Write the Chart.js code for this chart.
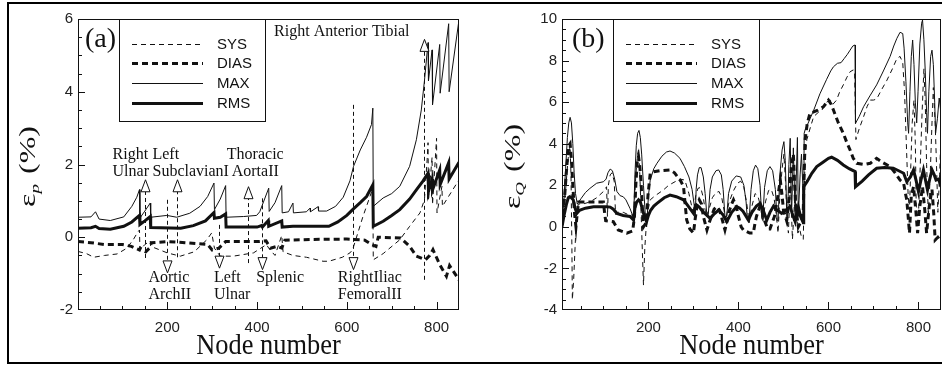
<!DOCTYPE html>
<html>
<head>
<meta charset="utf-8">
<script src="https://cdn.jsdelivr.net/npm/chart.js@4.4.1/dist/chart.umd.min.js"></script>
<style>
html, body { margin: 0; padding: 0; background: #fff; width: 942px; height: 367px; overflow: hidden; }
#frame { position: absolute; left: 7px; top: 2px; width: 960px; height: 358px; border: 2px solid #000; border-right: none; }
#ca { position: absolute; left: 0; top: 0; }
#cb { position: absolute; left: 470px; top: 0; }
</style>
</head>
<body>
<div id="frame"></div>
<canvas id="ca" width="470" height="367"></canvas>
<canvas id="cb" width="472" height="367"></canvas>
<script>
// tick labels
const xTicks = [200, 400, 600, 800];
const yTicksA = [-2, 0, 2, 4, 6];
const yTicksB = [-4, -2, 0, 2, 4, 6, 8, 10];
const seriesNames = ['SYS', 'DIAS', 'MAX', 'RMS'];

// (a) pressure error, [node, %]
const pSys = [[1,-0.39],[20,-0.45],[36,-0.55],[60,-0.5],[88,-0.46],[110,-0.3],[125,-0.05],[133,0.12],[138,0.2],[139,-0.35],[150,-0.2],[162,-0.1],[163,-0.25],[200,-0.43],[229,-0.52],[260,-0.4],[288,-0.07],[299,0.12],[305,-0.3],[318,-0.52],[347,-0.52],[392,-0.43],[421,-0.2],[426,-0.3],[440,-0.5],[455,0.05],[458,-0.4],[480,-0.5],[510,-0.55],[547,-0.66],[560,-0.66],[590,-0.55],[607,-0.43],[613,-0.34],[636,0.57],[658,1.35],[659,-0.62],[681,-0.45],[718,-0.07],[740,0.3],[763,0.67],[773,1.03],[779,2.13],[781,2.6],[782,1.0],[790,2.2],[791,0.9],[800,2.72],[801,0.67],[812,1.4],[813,0.85],[850,1.58]];
const pDias = [[1,-0.12],[30,-0.15],[60,-0.2],[100,-0.2],[120,-0.25],[138,-0.35],[140,-0.3],[152,-0.4],[160,-0.3],[165,-0.15],[200,-0.12],[240,-0.15],[290,-0.2],[300,-0.35],[315,-0.3],[330,-0.12],[400,-0.12],[420,-0.1],[430,-0.3],[445,-0.25],[455,-0.3],[462,-0.08],[520,-0.06],[600,-0.05],[640,-0.08],[655,-0.2],[665,-0.25],[670,0.0],[720,-0.02],[740,-0.25],[755,-0.52],[775,-0.62],[785,-0.5],[792,-0.34],[807,-0.75],[822,-1.07],[829,-0.78],[850,-1.17]];
const pMax = [[1,0.55],[30,0.56],[40,0.7],[48,0.5],[73,0.46],[103,0.56],[121,0.85],[132,1.1],[138,1.31],[139,0.53],[150,0.72],[162,0.94],[163,0.55],[199,0.6],[221,0.55],[250,0.66],[273,0.85],[290,1.12],[304,1.49],[305,0.76],[318,1.05],[330,1.42],[331,0.55],[370,0.57],[399,0.6],[406,0.7],[426,1.35],[427,0.71],[440,0.95],[455,1.42],[456,0.67],[470,0.7],[480,0.94],[481,0.67],[510,0.7],[518,0.8],[519,0.7],[536,0.84],[537,0.72],[555,0.72],[575,0.85],[592,1.1],[607,1.55],[615,1.95],[630,2.4],[644,2.75],[655,3.1],[658,3.55],[659,0.85],[681,1.08],[700,1.2],[718,1.4],[740,1.95],[755,2.68],[766,3.5],[773,4.3],[781,5.35],[782,4.3],[790,5.15],[791,3.64],[807,5.3],[808,3.96],[827,5.87],[828,4.0],[850,5.98]];
const pRms = [[1,0.25],[30,0.26],[40,0.3],[48,0.24],[73,0.22],[103,0.3],[121,0.42],[138,0.6],[139,0.35],[150,0.45],[162,0.57],[163,0.27],[230,0.25],[258,0.32],[285,0.45],[304,0.68],[305,0.52],[318,0.55],[330,0.64],[331,0.28],[400,0.28],[410,0.32],[412,0.28],[425,0.46],[426,0.3],[455,0.45],[456,0.28],[480,0.3],[520,0.3],[560,0.3],[580,0.42],[600,0.6],[613,0.76],[630,0.95],[644,1.12],[658,1.44],[659,0.3],[681,0.44],[700,0.6],[718,0.76],[740,1.05],[755,1.3],[770,1.55],[781,1.76],[782,1.26],[790,1.6],[791,1.3],[807,1.85],[808,1.45],[827,2.05],[828,1.6],[850,2.06]];

// (b) flow error, [node, %]
const qSys = [[8,0.1],[14,1.2],[19,2.6],[23,3.6],[26,3.85],[28,2.5],[30,-1.0],[31,-3.5],[34,-2.5],[37,-1.0],[40,0.5],[44,1.1],[55,1.1],[70,1.2],[85,1.4],[100,1.7],[107,1.93],[109,0.5],[111,2.0],[115,2.5],[119,2.6],[124,2.2],[127,0.6],[133,0.7],[144,0.7],[159,0.55],[168,0.6],[172,2.5],[176,3.5],[178,3.7],[181,2.5],[184,0.5],[187,-1.5],[189,-2.8],[192,-1.0],[196,0.3],[200,0.9],[204,1.3],[215,1.5],[233,1.77],[245,2.0],[259,2.17],[270,2.3],[281,2.25],[290,1.6],[297,0.9],[300,0.65],[305,1.5],[310,1.85],[316,1.9],[322,1.4],[328,0.5],[334,0.8],[342,1.4],[350,1.65],[357,1.7],[363,1.4],[368,0.8],[372,0.3],[378,1.1],[388,1.7],[398,2.1],[405,2.2],[412,1.9],[418,1.2],[424,0.2],[430,1.0],[437,1.6],[443,1.5],[449,1.0],[454,0.2],[460,1.2],[467,1.75],[473,1.8],[479,1.4],[484,0.6],[488,-0.3],[492,1.5],[497,2.8],[501,3.5],[505,2.0],[508,0.3],[511,-0.3],[514,1.5],[516,2.5],[518,0.5],[520,-0.6],[524,1.0],[527,2.0],[530,0.5],[532,-0.3],[536,-0.1],[540,-0.5],[544,-0.6],[546,1.5],[548,3.2],[552,4.2],[560,4.8],[567,5.3],[577,5.5],[585,5.6],[596,6.0],[604,6.1],[610,5.9],[618,6.1],[625,6.5],[633,6.83],[641,7.2],[648,7.46],[655,7.55],[658,7.5],[661,4.2],[668,4.7],[678,5.3],[686,5.8],[693,6.1],[700,6.1],[707,6.15],[718,6.6],[730,7.06],[742,7.6],[752,8.1],[759,8.2],[765,7.9],[769,6.5],[773,4.0],[777,1.5],[780,0.8],[783,3.0],[786,5.0],[790,6.1],[793,4.0],[795,1.0],[800,0.6],[804,3.0],[808,5.5],[812,7.6],[815,6.0],[818,3.0],[822,0.5],[826,2.5],[830,5.0],[833,6.7],[837,5.0],[840,3.0],[843,0.7],[847,2.5],[850,4.5]];
const qDias = [[8,0.1],[14,1.5],[19,3.0],[23,3.9],[26,4.0],[29,3.2],[32,2.0],[36,0.6],[39,0.0],[42,0.7],[45,1.2],[70,1.2],[100,1.2],[103,0.6],[105,0.3],[122,0.25],[133,-0.15],[152,-0.3],[165,-0.2],[169,0.5],[172,2.0],[175,3.1],[178,3.38],[181,2.9],[184,2.0],[187,0.6],[189,0.0],[195,0.2],[199,1.5],[204,2.58],[212,2.65],[225,2.7],[248,2.74],[258,2.6],[265,2.4],[272,2.2],[278,1.93],[282,1.0],[285,0.33],[292,-0.1],[300,-0.3],[304,0.4],[308,1.0],[313,1.3],[318,1.1],[322,0.5],[330,-0.15],[335,0.2],[340,0.5],[346,0.85],[352,0.97],[358,0.8],[362,0.5],[370,-0.15],[375,0.3],[380,0.8],[385,1.1],[389,1.3],[395,1.0],[400,0.5],[406,0.0],[411,-0.15],[425,-0.3],[433,-0.3],[437,0.2],[440,0.5],[448,1.0],[453,0.7],[458,0.3],[465,-0.1],[470,-0.1],[475,0.2],[480,0.5],[487,1.4],[493,2.25],[497,1.5],[500,0.8],[507,0.3],[510,0.8],[513,1.5],[517,2.8],[522,3.5],[525,2.0],[527,1.0],[533,0.0],[540,0.3],[544,0.8],[546,2.5],[548,4.17],[553,5.0],[559,5.46],[575,5.6],[589,5.78],[600,6.1],[606,5.9],[611,5.62],[622,5.0],[633,4.5],[640,4.1],[648,3.7],[655,3.3],[663,3.06],[680,3.0],[693,3.06],[707,3.3],[720,3.1],[737,2.9],[748,2.6],[759,2.25],[767,2.1],[771,1.6],[774,1.3],[777,0.5],[780,-0.3],[784,1.5],[789,1.93],[794,0.8],[798,-0.3],[803,1.0],[809,1.93],[814,0.8],[818,-0.3],[824,1.0],[830,1.8],[834,0.6],[837,-0.63],[843,-0.5],[850,-0.7]];
const qMax = [[8,0.1],[12,1.2],[16,2.8],[20,4.3],[23,5.0],[26,5.27],[29,5.0],[32,4.0],[35,2.6],[38,1.6],[42,1.1],[50,1.35],[60,1.65],[70,1.85],[85,2.1],[100,2.17],[106,2.3],[110,2.6],[115,2.78],[120,2.7],[125,2.3],[130,1.7],[137,1.5],[144,1.45],[150,1.3],[159,0.89],[164,0.6],[167,0.33],[170,2.5],[173,3.9],[176,4.5],[179,4.64],[182,4.3],[185,3.5],[189,2.0],[193,0.6],[196,0.0],[200,1.5],[204,2.25],[212,2.8],[219,3.06],[230,3.4],[240,3.6],[248,3.65],[258,3.55],[270,3.3],[280,2.9],[290,2.4],[297,1.8],[302,1.0],[304,0.5],[306,1.8],[309,2.5],[313,2.85],[317,2.85],[322,2.4],[326,1.6],[330,0.5],[333,0.6],[337,1.8],[342,2.4],[350,2.7],[356,2.74],[362,2.5],[366,1.8],[370,0.5],[374,0.5],[378,1.6],[385,2.2],[395,2.45],[405,2.4],[412,2.0],[417,1.2],[420,0.3],[424,0.4],[428,1.8],[433,2.7],[438,2.97],[443,2.8],[448,2.0],[452,0.4],[454,0.4],[458,1.9],[464,2.7],[470,2.9],[476,2.7],[482,1.8],[486,0.3],[488,0.3],[492,2.5],[497,3.7],[501,4.1],[504,3.2],[507,1.0],[509,0.1],[512,3.0],[515,4.26],[518,0.5],[522,3.8],[526,0.5],[531,4.3],[533,0.5],[537,2.5],[540,3.5],[543,2.0],[545,0.7],[546,4.5],[548,4.66],[553,4.9],[559,5.2],[567,5.6],[581,6.4],[596,7.1],[605,7.5],[611,7.7],[620,7.87],[628,7.9],[635,8.1],[642,8.3],[648,8.5],[654,8.7],[659,8.75],[660,4.98],[668,5.3],[678,5.78],[692,6.3],[707,6.83],[722,7.5],[737,8.2],[745,8.7],[752,9.07],[759,9.36],[765,9.3],[768,8.6],[772,7.0],[776,5.0],[778,4.5],[781,6.5],[784,8.2],[787,8.99],[790,7.8],[793,6.0],[796,5.0],[799,6.5],[803,8.8],[807,9.8],[809,9.95],[812,9.0],[815,7.5],[818,5.5],[820,4.5],[823,6.5],[827,8.2],[830,8.5],[833,7.8],[836,6.0],[838,4.5],[842,5.2],[846,6.2],[850,5.46]];
const qRms = [[8,0.0],[13,0.6],[18,1.1],[22,1.4],[25,1.45],[29,1.4],[33,1.3],[37,0.9],[41,0.65],[47,0.8],[60,0.9],[78,0.97],[107,0.97],[115,0.95],[122,0.85],[130,0.65],[144,0.55],[159,0.5],[167,0.33],[170,0.9],[174,1.2],[178,1.3],[182,1.2],[186,0.9],[191,0.5],[196,0.25],[200,0.55],[205,0.8],[212,1.0],[219,1.13],[235,1.4],[248,1.53],[262,1.45],[278,1.3],[290,0.95],[300,0.65],[303,0.9],[307,1.05],[313,0.95],[320,0.75],[330,0.55],[337,0.41],[345,0.6],[356,0.81],[365,0.6],[374,0.25],[385,0.7],[396,0.97],[403,0.9],[410,0.75],[422,0.33],[430,0.7],[440,1.0],[448,1.13],[455,0.8],[463,0.33],[470,0.7],[478,1.0],[486,0.8],[496,0.65],[505,0.8],[515,0.97],[520,0.6],[526,0.25],[530,0.7],[533,0.97],[538,0.5],[544,0.2],[545,1.93],[553,2.2],[563,2.58],[574,2.9],[587,3.1],[600,3.3],[607,3.35],[620,3.2],[633,2.98],[646,2.8],[659,2.66],[660,1.93],[675,2.2],[689,2.5],[707,2.82],[725,2.85],[744,2.82],[756,2.7],[767,2.58],[774,2.17],[782,2.4],[789,2.74],[795,2.2],[800,1.69],[806,2.3],[811,2.74],[816,2.2],[820,1.77],[825,2.3],[830,2.74],[835,2.5],[839,2.25],[845,2.3],[850,1.93]];

// arrows in (a): [node, from, to]
const arrowsA = [[151,-0.57,1.58],[222,-0.55,1.58],[200,1.03,-0.98],[316,0.34,-0.85],[380,-0.71,1.39],[411,1.07,-0.89],[613,3.64,-0.89],[772,-1.17,5.44]];
// notes in (a): [node, value, text, align]
const notesA = [
  [78,2.27,'Right','left'],[78,1.81,'Ulnar','left'],
  [167,2.27,'Left','left'],[167,1.81,'SubclavianI','left'],
  [396,2.27,'Thoracic','center'],[396,1.81,'AortaII','center'],
  [158,-1.12,'Aortic','left'],[158,-1.58,'ArchII','left'],
  [304,-1.12,'Left','left'],[304,-1.58,'Ulnar','left'],
  [398,-1.12,'Splenic','left'],
  [580,-1.12,'RightIliac','left'],[580,-1.58,'FemoralII','left'],
  [438,5.66,'Right Anterior Tibial','left']
];

const SANS = '"Liberation Sans", Arial, Helvetica, sans-serif';
const SERIF = '"Liberation Serif", "Times New Roman", Times, serif';
const INK = '#111';
const lineStyle = [
  { w: 1, dash: [5, 4] },
  { w: 3, dash: [6, 4] },
  { w: 1, dash: [] },
  { w: 3, dash: [] }
];

// frame, inward ticks, legend box, titles
const decor = {
  id: 'decor',
  afterDatasetsDraw(chart, args, o) {
    const { ctx, chartArea: a, scales: { x, y } } = chart;
    ctx.save();
    ctx.strokeStyle = INK;
    ctx.lineWidth = 1;
    ctx.strokeRect(a.left + 0.5, a.top + 0.5, a.right - a.left - 1, a.bottom - a.top - 1);
    ctx.beginPath();
    for (let v = 50; v < 850; v += 50) {
      const px = Math.round(x.getPixelForValue(v)) + 0.5;
      const len = v % 200 === 0 ? 8 : 4;
      ctx.moveTo(px, a.bottom); ctx.lineTo(px, a.bottom - len);
    }
    for (let v = y.min + 0.5; v < y.max; v += 0.5) {
      const py = Math.round(y.getPixelForValue(v)) + 0.5;
      const len = Math.abs(v % 2) < 1e-6 ? 7 : 4;
      ctx.moveTo(a.left, py); ctx.lineTo(a.left + len, py);
    }
    ctx.stroke();

    // legend
    const bl = a.left + o.legendLeft, bt = a.top;
    ctx.fillStyle = '#fff';
    ctx.fillRect(bl, bt, 146, 102);
    ctx.strokeRect(bl + 0.5, bt + 0.5, 146, 102);
    const rows = [25, 44, 64, 84];
    chart.data.datasets.forEach((d, i) => {
      const ry = bt + rows[i] + 0.5;
      ctx.beginPath();
      ctx.lineWidth = d.borderWidth;
      ctx.setLineDash(d.borderDash);
      ctx.moveTo(bl + 13, ry); ctx.lineTo(bl + 84, ry);
      ctx.stroke();
      ctx.setLineDash([]);
      ctx.fillStyle = INK;
      ctx.font = '15px ' + SANS;
      ctx.textBaseline = 'middle';
      ctx.textAlign = 'left';
      ctx.fillText(d.label, bl + 98, ry);
    });
    ctx.lineWidth = 1;

    // panel tag
    ctx.fillStyle = INK;
    ctx.textBaseline = 'alphabetic';
    ctx.font = '28px ' + SERIF;
    ctx.fillText(o.tag, o.tagX, 47);

    // x title
    ctx.save();
    ctx.translate((a.left + a.right) / 2, 354);
    ctx.scale(0.88, 1);
    ctx.font = '30px ' + SERIF;
    ctx.textAlign = 'center';
    ctx.fillText('Node number', 0, 0);
    ctx.restore();

    // y title: epsilon with italic subscript
    ctx.save();
    ctx.translate(o.titleX, (a.top + a.bottom) / 2 + 2);
    ctx.rotate(-Math.PI / 2);
    ctx.scale(1, 0.7);
    ctx.textAlign = 'left';
    const big = '32px ' + SERIF, small = 'italic 19px ' + SERIF;
    ctx.font = big; const w1 = ctx.measureText('\u03b5').width;
    ctx.font = small; const w2 = ctx.measureText(o.sub).width;
    ctx.font = big; const w3 = ctx.measureText('(%)').width;
    const gap = 10;
    let cx = -(w1 + w2 + gap + w3) / 2;
    ctx.font = big; ctx.fillText('\u03b5', cx, 0); cx += w1;
    ctx.font = small; ctx.fillText(o.sub, cx, 6); cx += w2 + gap;
    ctx.font = big; ctx.fillText('(%)', cx, 0);
    ctx.restore();

    // annotations
    if (o.arrows) {
      ctx.lineWidth = 1;
      o.arrows.forEach(([n, from, to]) => {
        const px = Math.round(x.getPixelForValue(n)) + 0.5;
        const y0 = y.getPixelForValue(from), y1 = y.getPixelForValue(to);
        const dir = y1 < y0 ? -1 : 1;
        const hb = y1 - dir * 12;
        ctx.setLineDash([4, 3]);
        ctx.beginPath(); ctx.moveTo(px, y0); ctx.lineTo(px, hb); ctx.stroke();
        ctx.setLineDash([]);
        ctx.beginPath();
        ctx.moveTo(px, y1); ctx.lineTo(px - 4.5, hb); ctx.lineTo(px + 4.5, hb); ctx.closePath();
        ctx.fillStyle = '#fff'; ctx.fill(); ctx.stroke();
      });
      ctx.fillStyle = INK;
      ctx.font = '16px ' + SERIF;
      ctx.textBaseline = 'middle';
      o.notes.forEach(([n, v, t, al]) => {
        ctx.textAlign = al;
        ctx.fillText(t, x.getPixelForValue(n), y.getPixelForValue(v));
      });
    }
    ctx.restore();
  }
};

function makePanel(id, series, cfg) {
  const datasets = series.map((s, i) => ({
    label: seriesNames[i],
    data: s.map(p => ({ x: p[0], y: p[1] })),
    borderColor: INK,
    borderWidth: lineStyle[i].w,
    borderDash: lineStyle[i].dash,
    pointRadius: 0,
    tension: 0,
    fill: false
  }));
  return new Chart(document.getElementById(id), {
    type: 'line',
    data: { datasets },
    options: {
      responsive: false,
      animation: false,
      devicePixelRatio: 1,
      layout: { padding: { top: 19, right: cfg.padRight, left: 0, bottom: 0 } },
      plugins: {
        legend: { display: false },
        tooltip: { enabled: false },
        decor: cfg.decor
      },
      scales: {
        x: {
          type: 'linear', min: cfg.xMin, max: 850,
          afterBuildTicks: s => { s.ticks = xTicks.map(v => ({ value: v })); },
          afterFit: s => { s.height = 57; },
          grid: { display: false, drawTicks: false }, border: { display: false },
          ticks: { font: { family: SANS, size: 15 }, color: '#222', padding: 9, maxRotation: 0, autoSkip: false }
        },
        y: {
          min: cfg.yMin, max: cfg.yMax,
          afterBuildTicks: s => { s.ticks = cfg.yTicks.map(v => ({ value: v })); },
          afterFit: s => { s.width = cfg.axisW; },
          grid: { display: false, drawTicks: false }, border: { display: false },
          ticks: { font: { family: SANS, size: 15 }, color: '#222', padding: 5 }
        }
      }
    },
    plugins: [decor]
  });
}

makePanel('ca', [pSys, pDias, pMax, pRms], {
  xMin: 1, yMin: -2, yMax: 6, yTicks: yTicksA, axisW: 78, padRight: 11,
  decor: { legendLeft: 41, tag: '(a)', tagX: 85, sub: 'p', titleX: 35, arrows: arrowsA, notes: notesA }
});
makePanel('cb', [qSys, qDias, qMax, qRms], {
  xMin: 8, yMin: -4, yMax: 10, yTicks: yTicksB, axisW: 92, padRight: 1,
  decor: { legendLeft: 51, tag: '(b)', tagX: 102, sub: 'Q', titleX: 50 }
});
</script>
</body>
</html>
